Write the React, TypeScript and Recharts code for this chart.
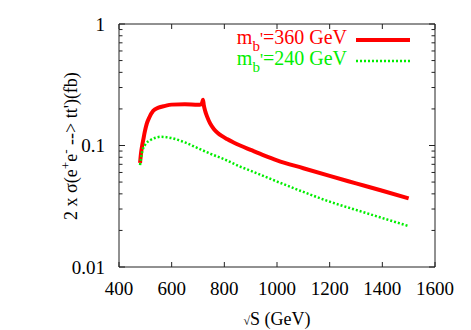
import { Legend, Line, LineChart, XAxis, YAxis } from "recharts";

const sqrtS360 = [480, 484, 488, 492, 498, 505, 515, 530, 550, 575, 600, 650, 700, 712, 716, 719, 722, 728, 735, 746, 760, 775, 790, 810, 835, 860, 900, 950, 1000, 1100, 1200, 1300, 1400, 1500];
const sigma360 = [0.072, 0.088, 0.1, 0.111, 0.13, 0.15, 0.17, 0.193, 0.205, 0.212, 0.217, 0.219, 0.216, 0.218, 0.226, 0.238, 0.215, 0.19, 0.172, 0.152, 0.137, 0.127, 0.12, 0.113, 0.106, 0.1, 0.092, 0.083, 0.0755, 0.065, 0.0562, 0.0488, 0.0424, 0.0367];

const sqrtS240 = [480, 484, 490, 500, 520, 540, 560, 580, 600, 650, 700, 750, 800, 860, 900, 1000, 1100, 1200, 1300, 1400, 1500];
const sigma240 = [0.069, 0.08, 0.092, 0.102, 0.111, 0.116, 0.118, 0.117, 0.115, 0.106, 0.095, 0.085, 0.077, 0.067, 0.062, 0.0505, 0.0415, 0.0345, 0.0295, 0.0253, 0.0217];

const xTicks = [400, 600, 800, 1000, 1200, 1400, 1600];
const yTicks = [
  0.01, 0.02, 0.03, 0.04, 0.05, 0.06, 0.07, 0.08, 0.09,
  0.1, 0.2, 0.3, 0.4, 0.5, 0.6, 0.7, 0.8, 0.9, 1,
];

const data360 = sqrtS360.map((s, i) => ({ s, sigma: sigma360[i] }));
const data240 = sqrtS240.map((s, i) => ({ s, sigma: sigma240[i] }));

const FONT = "'Liberation Serif', 'DejaVu Serif', serif";
const AXIS = "#222";
const RED = "#ff0000";
const GREEN = "#00ee00";

const legendRows = [
  { key: "m360", mass: "=360 GeV", color: RED, width: 4, dash: undefined as string | undefined },
  { key: "m240", mass: "=240 GeV", color: GREEN, width: 2.5, dash: "2 2" },
];

const isDecade = (v: number) => Math.abs(Math.log10(v) - Math.round(Math.log10(v))) < 1e-6;

function BottomTick({ x, y, payload }: any) {
  return (
    <g>
      <line x1={x} y1={y} x2={x} y2={y - 5} stroke={AXIS} />
      <text x={x} y={y + 28} textAnchor="middle" fontFamily={FONT} fontSize={19} fill="#000">
        {payload.value}
      </text>
    </g>
  );
}

function TopTick({ x, y }: any) {
  return <line x1={x} y1={y} x2={x} y2={y + 5} stroke={AXIS} />;
}

function LeftTick({ x, y, payload }: any) {
  const major = isDecade(payload.value);
  return (
    <g>
      <line x1={x} y1={y} x2={x + (major ? 6 : 3.5)} y2={y} stroke={AXIS} />
      {major && (
        <text x={x - 14} y={y + 6.5} textAnchor="end" fontFamily={FONT} fontSize={19} fill="#000">
          {String(payload.value)}
        </text>
      )}
    </g>
  );
}

function RightTick({ x, y, payload }: any) {
  const major = isDecade(payload.value);
  return <line x1={x} y1={y} x2={x - (major ? 6 : 3.5)} y2={y} stroke={AXIS} />;
}

function YTitle() {
  return (
    <text
      x={77}
      y={146}
      transform="rotate(-90 77 146)"
      textAnchor="middle"
      fontFamily={FONT}
      fontSize={18}
      fill="#000"
    >
      2 x σ(e
      <tspan dy={-7} fontSize={13}>+</tspan>
      <tspan dy={7}>e</tspan>
      <tspan dy={-7} fontSize={13}>-</tspan>
      <tspan dy={7}> --&gt; tt')(fb)</tspan>
    </text>
  );
}

function XTitle() {
  return (
    <text x={277} y={325} textAnchor="middle" fontFamily={FONT} fontSize={18} fill="#000">
      <tspan fontSize={12}>√</tspan>S (GeV)
    </text>
  );
}

function LegendBox() {
  return (
    <svg width={471} height={80}>
      {legendRows.map((row, i) => {
        const base = 44 + i * 21;
        return (
          <g key={row.key}>
            <text x={347} y={base} textAnchor="end" fontFamily={FONT} fontSize={20} fill={row.color}>
              m
              <tspan dy={7} fontSize={15}>b</tspan>
              <tspan dy={-7} fontSize={17}>'</tspan>
              {row.mass}
            </text>
            <line
              x1={356}
              x2={410}
              y1={base - 4}
              y2={base - 4}
              stroke={row.color}
              strokeWidth={row.width}
              strokeDasharray={row.dash}
            />
          </g>
        );
      })}
    </svg>
  );
}

export default function App() {
  return (
    <div style={{ position: "absolute", left: 0, top: 0 }}>
      <LineChart width={471} height={330} margin={{ top: 23, right: 35, bottom: 23, left: 60 }}>
        <XAxis
          xAxisId="b"
          dataKey="s"
          type="number"
          domain={[400, 1600]}
          ticks={xTicks}
          allowDataOverflow
          height={40}
          tickSize={0}
          tickMargin={0}
          tickLine={false}
          stroke={AXIS}
          tick={<BottomTick />}
          label={<XTitle />}
        />
        <XAxis
          xAxisId="t"
          orientation="top"
          dataKey="s"
          type="number"
          domain={[400, 1600]}
          ticks={xTicks}
          allowDataOverflow
          height={1}
          tickSize={0}
          tickMargin={0}
          tickLine={false}
          stroke={AXIS}
          tick={<TopTick />}
        />
        <YAxis
          yAxisId="l"
          type="number"
          scale="log"
          domain={[0.01, 1]}
          ticks={yTicks}
          allowDataOverflow
          width={59}
          tickSize={0}
          tickMargin={0}
          tickLine={false}
          stroke={AXIS}
          interval={0}
          tick={<LeftTick />}
          label={<YTitle />}
        />
        <YAxis
          yAxisId="r"
          orientation="right"
          type="number"
          scale="log"
          domain={[0.01, 1]}
          ticks={yTicks}
          allowDataOverflow
          width={1}
          tickSize={0}
          tickMargin={0}
          tickLine={false}
          stroke={AXIS}
          interval={0}
          tick={<RightTick />}
        />
        <Legend
          layout="horizontal"
          verticalAlign="middle"
          align="center"
          wrapperStyle={{ top: 0, left: 0, width: 471, height: 80 }}
          content={() => <LegendBox />}
        />
        <Line
          xAxisId="b"
          yAxisId="l"
          data={data360}
          dataKey="sigma"
          name="m360"
          type="monotone"
          stroke={RED}
          strokeWidth={4}
          dot={false}
          isAnimationActive={false}
        />
        <Line
          xAxisId="t"
          yAxisId="r"
          data={data240}
          dataKey="sigma"
          name="m240"
          type="monotone"
          stroke={GREEN}
          strokeWidth={2.5}
          strokeDasharray="2 2"
          dot={false}
          isAnimationActive={false}
        />
      </LineChart>
    </div>
  );
}
